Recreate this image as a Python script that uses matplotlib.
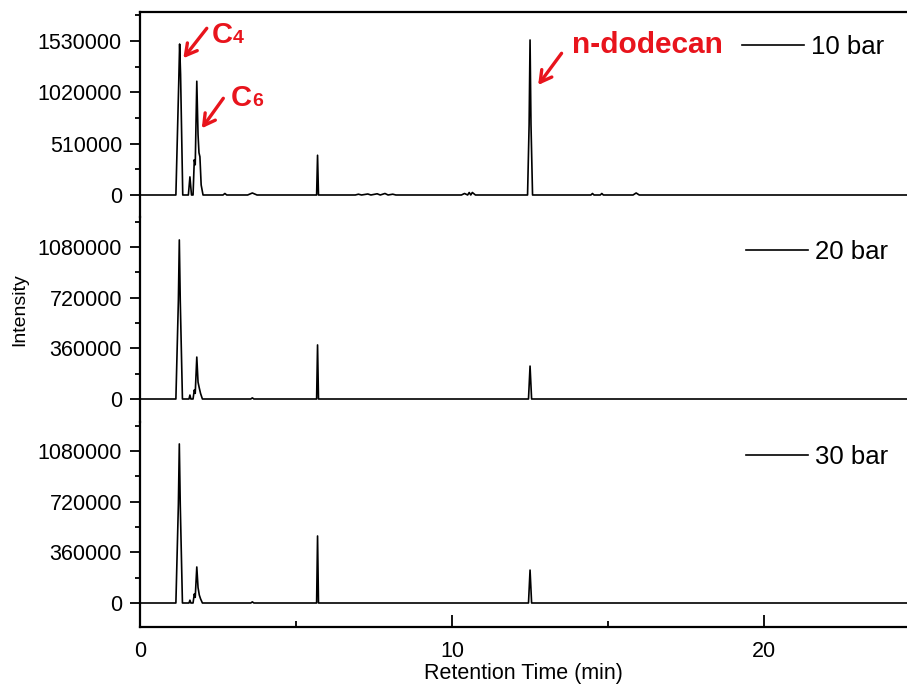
import matplotlib
matplotlib.use('Agg')
import matplotlib.pyplot as plt
from matplotlib.ticker import FixedLocator
from matplotlib import transforms

plt.rcParams['font.family'] = ['Liberation Sans', 'DejaVu Sans']

# ---------------- data ----------------
labels = ["10 bar", "20 bar", "30 bar"]

time_10bar = [0, 1.15, 1.24, 1.27, 1.30, 1.37, 1.55, 1.60, 1.65, 1.70, 1.74, 1.77, 1.82,
              1.86, 1.89, 1.92, 1.96, 2.02, 2.66, 2.72, 2.78, 3.45, 3.6, 3.75,
              5.66, 5.69, 5.72, 6.9, 7.0, 7.1, 7.3, 7.4, 7.6, 7.7, 7.85, 7.95, 8.1, 8.2,
              10.3, 10.4, 10.5, 10.55, 10.6, 10.65, 10.75,
              12.42, 12.47, 12.5, 12.53, 12.58, 14.45, 14.5, 14.55, 14.75, 14.8, 14.85,
              15.8, 15.9, 16.0, 24.6]
intensity_10bar = [0, 0, 1100000, 1500000, 1200000, 0, 0, 180000, 0, 0, 350000, 300000, 1130000,
                   600000, 420000, 380000, 100000, 0, 0, 15000, 0, 0, 20000, 0,
                   0, 395000, 0, 0, 8000, 0, 10000, 0, 12000, 0, 15000, 0, 8000, 0,
                   0, 15000, 0, 25000, 0, 25000, 0,
                   0, 700000, 1540000, 700000, 0, 0, 15000, 0, 0, 15000, 0,
                   0, 20000, 0, 0]

time_20bar = [0, 1.15, 1.23, 1.26, 1.29, 1.36, 1.57, 1.60, 1.63, 1.70, 1.74, 1.77, 1.82,
              1.86, 1.90, 1.94, 2.00, 3.55, 3.6, 3.65, 5.66, 5.69, 5.72,
              12.45, 12.5, 12.55, 24.6]
intensity_20bar = [0, 0, 700000, 1130000, 700000, 0, 0, 28000, 0, 0, 64000, 40000, 298000,
                   120000, 78000, 40000, 0, 0, 8000, 0, 0, 384000, 0,
                   0, 234000, 0, 0]

time_30bar = [0, 1.15, 1.23, 1.26, 1.29, 1.36, 1.57, 1.60, 1.63, 1.70, 1.74, 1.77, 1.82,
              1.86, 1.90, 1.94, 2.00, 3.55, 3.6, 3.65, 5.66, 5.69, 5.72,
              12.45, 12.5, 12.55, 24.6]
intensity_30bar = [0, 0, 700000, 1130000, 700000, 0, 0, 20000, 0, 0, 64000, 40000, 256000,
                   110000, 57000, 30000, 0, 0, 8000, 0, 0, 476000, 0,
                   0, 234000, 0, 0]

yticks_top = [0, 510000, 1020000, 1530000]
yticks_low = [0, 360000, 720000, 1080000]
xticks_major = [0, 10, 20]
xticks_minor = [5, 15]

series = [(time_10bar, intensity_10bar), (time_20bar, intensity_20bar),
          (time_30bar, intensity_30bar)]

# ---------------- layout ----------------
W, H = 907, 686
fig = plt.figure(figsize=(W / 100, H / 100), dpi=100)
left_px, right_px = 140, 907
panels_px = [(12, 217), (217, 422), (422, 627)]
ylims = [(-218600, 1818100), (-163400, 1293100), (-170500, 1286000)]
yticks = [yticks_top, yticks_low, yticks_low]
ystep_minor = [255000, 180000, 180000]
legend_anchor = [(0.785, 0.831), (0.790, 0.831), (0.790, 0.831)]

FS = 15.5
axes = []
for i, ((top, bot), (t, y)) in enumerate(zip(panels_px, series)):
    ax = fig.add_axes([left_px / W, 1 - bot / H, (right_px - left_px) / W, (bot - top) / H])
    ax.plot(t, y, color='black', lw=1.2, label=labels[i])
    ax.set_xlim(0, 24.58)
    ax.set_ylim(*ylims[i])
    ax.yaxis.set_major_locator(FixedLocator(yticks[i]))
    lo, hi = ylims[i]
    mins = [v for v in range(-10 * ystep_minor[i], 20 * ystep_minor[i], ystep_minor[i])
            if lo <= v <= hi and v not in yticks[i]]
    ax.yaxis.set_minor_locator(FixedLocator(mins))
    ax.set_yticklabels([str(v) for v in yticks[i]])
    ax.tick_params(axis='y', which='major', direction='out', length=7, width=1.3,
                   labelsize=FS, pad=6)
    ax.tick_params(axis='y', which='minor', direction='out', length=3.5, width=1.3)
    for s in ['top', 'bottom', 'right']:
        ax.spines[s].set_visible(False)
    ax.spines['left'].set_linewidth(1.6)
    if i == 0:
        ax.spines['top'].set_visible(True)
        ax.spines['top'].set_linewidth(1.6)
    if i == 2:
        ax.spines['bottom'].set_visible(True)
        ax.spines['bottom'].set_linewidth(1.6)
        ax.xaxis.set_major_locator(FixedLocator(xticks_major))
        ax.xaxis.set_minor_locator(FixedLocator(xticks_minor))
        ax.set_xticklabels([str(v) for v in xticks_major])
        ax.tick_params(axis='x', which='major', direction='in', length=8.6, width=1.3,
                       labelsize=FS, pad=10)
        ax.tick_params(axis='x', which='minor', direction='in', length=4.3, width=1.3)
        ax.set_xlabel('Retention Time (min)', fontsize=FS, labelpad=1)
    else:
        ax.tick_params(axis='x', which='both', bottom=False, labelbottom=False)
    ax.patch.set_alpha(0)
    leg = ax.legend(loc='center left', bbox_to_anchor=legend_anchor[i], frameon=False,
                    fontsize=18.5, handlelength=2.4, handletextpad=0.3, borderpad=0,
                    borderaxespad=0)
    for ln in leg.get_lines():
        ln.set_linewidth(1.2)
    axes.append(ax)

fig.text(20 / W, 1 - 310 / H, 'Intensity', rotation=90, ha='center', va='center', fontsize=14)

# ---------------- red annotations ----------------
ax0 = axes[0]
red = '#e8141c'
arrow = dict(arrowstyle='->,head_length=0.8,head_width=0.45', color=red, lw=2.4,
             shrinkA=0, shrinkB=0)
ax0.annotate('', xy=(1.39, 1359000), xytext=(2.14, 1656000), arrowprops=arrow)
ax0.annotate('', xy=(1.98, 662700), xytext=(2.67, 960700), arrowprops=arrow)
ax0.annotate('', xy=(12.76, 1092900), xytext=(13.51, 1407800), arrowprops=arrow)

big = 21
small = 14


def label_c(x, y, sub):
    ax0.text(x, y, 'C', color=red, fontsize=big, fontweight='bold', ha='left',
             va='baseline')
    tr = transforms.offset_copy(ax0.transData, fig=fig, x=21, y=0, units='dots')
    ax0.text(x, y, sub, color=red, fontsize=small, fontweight='bold', ha='left',
             va='baseline', transform=tr)


label_c(2.30, 1510000, '4')
label_c(2.91, 884000, '6')
ax0.text(13.85, 1490000, 'n-dodecan', color=red, fontsize=21.5, fontweight='bold',
         ha='left', va='center')

fig.savefig('out.png', dpi=100)
